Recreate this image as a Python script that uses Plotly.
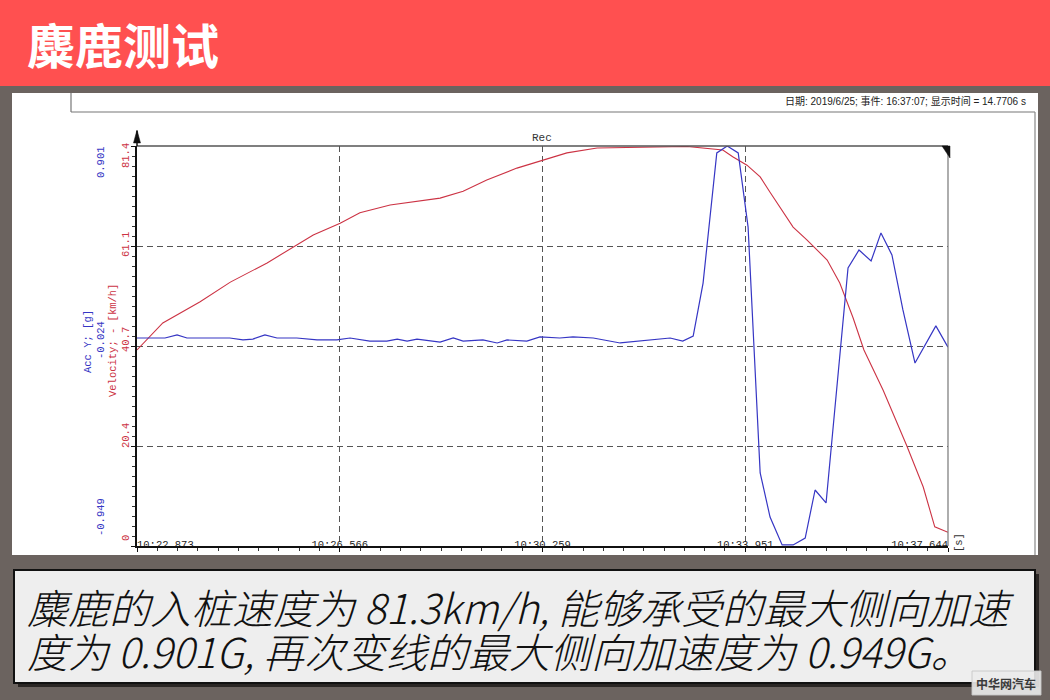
import plotly.graph_objects as go

W, H = 1050, 700

# ---------------- data ----------------
vel_t = [0.00, 0.47, 1.15, 1.70, 2.37, 2.91, 3.21, 3.70, 4.06, 4.61, 5.34, 5.52, 5.94,
         6.37, 6.92, 7.39, 7.83, 8.38, 9.11, 10.02, 10.67, 10.85, 11.11, 11.35, 11.53,
         11.77, 11.95, 12.20, 12.57, 12.80, 13.04, 13.24, 13.59, 14.02, 14.32, 14.53, 14.77]
vel_v = [39.9, 45.4, 49.7, 53.7, 57.6, 61.3, 63.3, 65.7, 67.8, 69.4, 70.6, 70.8, 72.2,
         74.5, 76.9, 78.5, 80.0, 81.0, 81.2, 81.3, 80.6, 79.2, 77.5, 75.1, 72.0,
         67.8, 64.9, 62.3, 58.2, 53.5, 46.5, 39.9, 31.7, 20.4, 12.0, 3.9, 2.8]

acc_t = [0.00, 0.51, 0.73, 0.91, 1.27, 1.69, 1.93, 2.11, 2.33, 2.55, 2.91, 3.28, 3.64,
         3.88, 4.24, 4.55, 4.74, 4.92, 5.10, 5.34, 5.52, 5.76, 5.94, 6.30, 6.56, 6.74,
         7.10, 7.34, 7.70, 7.94, 8.31, 8.80, 9.16, 9.47, 9.71, 9.94, 10.13, 10.31, 10.56,
         10.75, 10.95, 11.13, 11.35, 11.53, 11.75, 11.95, 12.17, 12.35, 12.55, 12.95,
         13.15, 13.37, 13.55, 13.75, 13.95, 14.17, 14.55, 14.77]
acc_g = [0.013, 0.013, 0.027, 0.013, 0.013, 0.013, 0.004, 0.008, 0.027, 0.013, 0.013, 0.004, 0.004,
         0.013, -0.001, -0.001, 0.008, -0.001, 0.008, -0.001, -0.006, 0.013, -0.001, 0.004, -0.010, 0.004,
         -0.001, 0.018, 0.013, 0.018, 0.013, -0.010, -0.001, 0.004, 0.013, -0.001, 0.022, 0.267, 0.869,
         0.901, 0.869, 0.526, -0.611, -0.815, -0.944, -0.944, -0.912, -0.690, -0.750, 0.337,
         0.420, 0.369, 0.499, 0.397, 0.143, -0.103, 0.069, -0.029]

x_tick_vals = [0.0, 3.693, 7.386, 11.078, 14.771]
x_tick_text = ["10:22.873", "10:26.566", "10:30.259", "10:33.951", "10:37.644"]
vel_tick_vals = [0.0, 20.35, 40.7, 61.05, 81.4]
vel_tick_text = ["0", "20.4", "40.7", "61.1", "81.4"]
acc_tick_vals = [-0.949, -0.024, 0.901]
acc_tick_text = ["-0.949", "-0.024", "0.901"]

title_text = "麋鹿测试"
info_text = "日期: 2019/6/25; 事件: 16:37:07; 显示时间 = 14.7706 s"
caption_lines = ["麋鹿的入桩速度为 81.3km/h, 能够承受的最大侧向加速",
                 "度为 0.901G, 再次变线的最大侧向加速度为 0.949G。"]
watermark = "中华网汽车"

# ---------------- styling / layout helpers ----------------
def px(x):
    return x / W

def py(y):
    return 1 - y / H

MONO = "Liberation Mono"
CJK = "Noto Sans CJK SC"
CJK_LIGHT = "Noto Sans CJK SC Light, Noto Sans CJK SC DemiLight, Noto Sans CJK SC"
RED = "#CC3344"
BLUE = "#3636C4"
GRAY_BG = "#6B635F"
LABEL_DROP = -1.2  # km/h: vertical offset of the time labels (negative = raised)

x_dom = [px(137), px(948)]
y_dom = [py(546), py(146)]

fig = go.Figure()
fig.add_trace(go.Scatter(x=acc_t, y=acc_g, mode="lines", yaxis="y2",
                         line=dict(color=BLUE, width=1.2), showlegend=False, hoverinfo="skip"))
fig.add_trace(go.Scatter(x=vel_t, y=vel_v, mode="lines", yaxis="y",
                         line=dict(color=RED, width=1.1), showlegend=False, hoverinfo="skip"))
# time tick labels (clamped at the ends like the original software), partly hidden by the band below
tick_pos = ["bottom right"] + ["bottom center"] * (len(x_tick_vals) - 2) + ["bottom left"]
fig.add_trace(go.Scatter(x=x_tick_vals, y=[vel_tick_vals[0] - LABEL_DROP] * len(x_tick_vals),
                         mode="text", text=x_tick_text, textposition=tick_pos, cliponaxis=False,
                         textfont=dict(family=MONO, size=10.5, color="#222222"),
                         showlegend=False, hoverinfo="skip"))

shapes = []
def rect(x0, y0, x1, y1, fill, line_color=None, lw=0, layer="below"):
    shapes.append(dict(type="rect", xref="paper", yref="paper", x0=px(x0), x1=px(x1),
                       y0=py(y1), y1=py(y0), fillcolor=fill, layer=layer,
                       line=dict(color=line_color or fill, width=lw)))

def seg(x0, y0, x1, y1, color, lw, layer="below"):
    shapes.append(dict(type="line", xref="paper", yref="paper", x0=px(x0), x1=px(x1),
                       y0=py(y0), y1=py(y1), layer=layer, line=dict(color=color, width=lw)))

def path(pts, fill, layer="above"):
    d = "M " + " L ".join(f"{px(a):.5f},{py(b):.5f}" for a, b in pts) + " Z"
    shapes.append(dict(type="path", xref="paper", yref="paper", path=d, fillcolor=fill,
                       layer=layer, line=dict(color=fill, width=0.5)))

# background pieces
rect(0, 0, W, 86, "#FF5050")
rect(12, 93, 1038, 555, "#FFFFFF")
seg(71, 93, 71, 112, "#777777", 1.2)
seg(71, 112, 1035, 112, "#777777", 1.2)
seg(1035, 112, 1035, 555, "#888888", 1.2)
# frame top/right
seg(137, 146, 948, 146, "#555555", 1.5, layer="above")
seg(948, 146, 948, 546, "#777777", 1.2, layer="above")
seg(137, 131, 137, 146, "#111111", 1.5, layer="above")
path([(137, 130), (140.5, 143), (133.5, 143)], "#111111")
path([(942, 146), (950, 146), (950, 158)], "#111111")
# bottom band + caption box + watermark
rect(0, 555, W, H, GRAY_BG, layer="above")
rect(18, 574, 1039, 687, "#2A2624", layer="above")
rect(14, 570, 1035, 683, "#EEEEEE", "#111111", 2, layer="above")
shapes.append(dict(type="rect", xref="paper", yref="paper", x0=px(972), x1=px(1041),
                   y0=py(695), y1=py(671), fillcolor="rgba(235,235,235,0.9)", layer="above",
                   line=dict(color="rgba(200,200,200,0.9)", width=1)))

ann = []
ann.append(dict(text=f"<b>{title_text}</b>", x=px(25), y=py(43), xanchor="left", yanchor="middle",
                font=dict(family=CJK, size=48, color="white")))
ann.append(dict(text=info_text, x=px(1028), y=py(101), xanchor="right", yanchor="middle",
                font=dict(family="Liberation Sans, " + CJK, size=10, color="#222222")))
ann.append(dict(text="Rec", x=px(542), y=py(138), xanchor="center", yanchor="middle",
                font=dict(family=MONO, size=11, color="#333333")))
ann.append(dict(text="[s]", x=px(959), y=py(543), xanchor="center", yanchor="middle", textangle=-90,
                font=dict(family=MONO, size=10.5, color="#333333")))
ann.append(dict(text="Acc Y; [g]", x=px(88), y=py(342), xanchor="center", yanchor="middle", textangle=-90,
                font=dict(family=MONO, size=10.5, color=BLUE)))
ann.append(dict(text="Velocity; - [km/h]", x=px(113), y=py(341), xanchor="center", yanchor="middle",
                textangle=-90, font=dict(family=MONO, size=10.5, color=RED)))
vel_shift = [8, 10, 6, 1, -10]
for v, t, s in zip(vel_tick_vals, vel_tick_text, vel_shift):
    ann.append(dict(text=t, x=px(126), xref="paper", y=v, yref="y", yshift=s, xanchor="center",
                    yanchor="middle", textangle=-90, font=dict(family=MONO, size=10.5, color=RED)))
acc_shift = [29, 6, -16]
for v, t, s in zip(acc_tick_vals, acc_tick_text, acc_shift):
    ann.append(dict(text=t, x=px(101), xref="paper", y=v, yref="y2", yshift=s, xanchor="center",
                    yanchor="middle", textangle=-90, font=dict(family=MONO, size=10.5, color=BLUE)))
for i, line in enumerate(caption_lines):
    ann.append(dict(text=line, x=px(25), y=py(606 + 44 * i), xanchor="left", yanchor="middle",
                    font=dict(family=CJK_LIGHT, size=41, color="#111111", style="italic", weight=300)))
ann.append(dict(text=f"<b>{watermark}</b>", x=px(1006), y=py(683), xanchor="center", yanchor="middle",
                font=dict(family=CJK, size=12, color="#3A3A3A")))
for a in ann:
    a.setdefault("xref", "paper")
    a.setdefault("yref", "paper")
    a["showarrow"] = False

fig.update_layout(
    width=W, height=H, margin=dict(l=0, r=0, t=0, b=0, pad=0, autoexpand=False),
    paper_bgcolor=GRAY_BG, plot_bgcolor="white", showlegend=False,
    shapes=shapes, annotations=ann,
    xaxis=dict(domain=x_dom, range=[x_tick_vals[0], x_tick_vals[-1]], tickmode="array",
               tickvals=x_tick_vals, showticklabels=False, ticks="outside", ticklen=4,
               tickcolor="#111111", tickwidth=1.2, automargin=False,
               showgrid=True, gridcolor="#555555", gridwidth=1.4, griddash="6px,4px",
               showline=True, linecolor="#111111", linewidth=2, zeroline=False,
               minor=dict(tickmode="linear", tick0=0, dtick=x_tick_vals[-1] / 40, ticks="outside",
                          ticklen=3, tickcolor="#333333", showgrid=False)),
    yaxis=dict(domain=y_dom, range=[vel_tick_vals[0], vel_tick_vals[-1]], tickmode="array",
               tickvals=vel_tick_vals, showticklabels=False, ticks="outside", ticklen=4,
               tickcolor="#111111", showgrid=True, gridcolor="#555555", gridwidth=1.4,
               griddash="6px,4px", showline=True, linecolor="#111111", linewidth=1.5, zeroline=False,
               automargin=False,
               minor=dict(tickmode="linear", tick0=0, dtick=vel_tick_vals[-1] / 40, ticks="outside",
                          ticklen=3, tickcolor="#333333", showgrid=False)),
    yaxis2=dict(overlaying="y", range=[acc_tick_vals[0], acc_tick_vals[-1]], visible=False,
                showgrid=False, zeroline=False, automargin=False),
)

fig.write_html("out.html", config={"displayModeBar": False},
               post_script="document.body.style.margin='0';document.body.style.overflow='hidden';")
